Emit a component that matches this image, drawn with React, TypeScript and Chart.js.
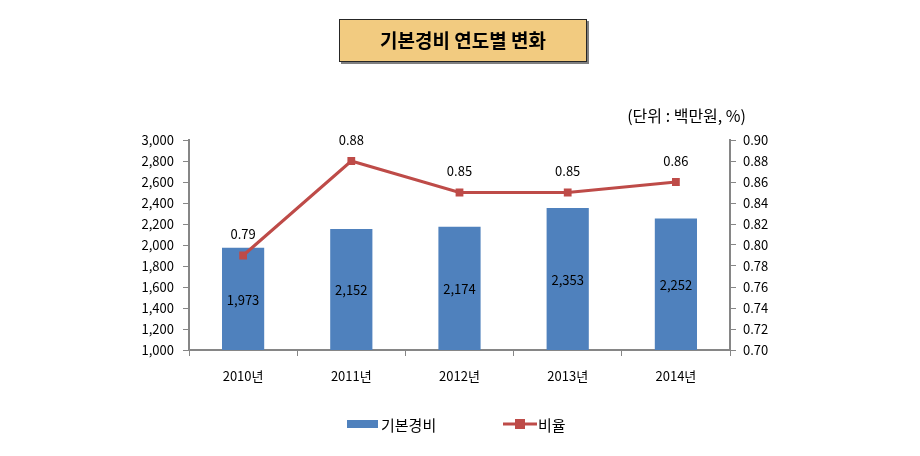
import React, { useEffect, useRef } from "react";
import { Chart, registerables } from "chart.js";

Chart.register(...registerables);

const categories = ["2010년", "2011년", "2012년", "2013년", "2014년"];
const expenseValues = [1973, 2152, 2174, 2353, 2252];
const ratioValues = [0.79, 0.88, 0.85, 0.85, 0.86];
const leftTicks = [1000, 1200, 1400, 1600, 1800, 2000, 2200, 2400, 2600, 2800, 3000];
const rightTicks = [0.7, 0.72, 0.74, 0.76, 0.78, 0.8, 0.82, 0.84, 0.86, 0.88, 0.9];
const titleText = "기본경비 연도별 변화";
const unitText = "(단위 : 백만원, %)";
const seriesNames = ["기본경비", "비율"];

const KFONT = "'Malgun Gothic', 'Noto Sans CJK KR', sans-serif";
const BLUE = "#4F81BD";
const RED = "#BE4B48";

const overlayPlugin = {
  id: "overlay",
  afterDraw(chart: any) {
    const ctx = chart.ctx;
    ctx.save();
    // title box
    const bx = 339, by = 19, bw = 248, bh = 43;
    ctx.fillStyle = "#7f7f7f";
    ctx.fillRect(bx + 2, by + 2, bw, bh);
    ctx.fillStyle = "#F2CB80";
    ctx.fillRect(bx, by, bw, bh);
    ctx.strokeStyle = "#262626";
    ctx.lineWidth = 1;
    ctx.strokeRect(bx + 0.5, by + 0.5, bw - 1, bh - 1);
    ctx.fillStyle = "#000";
    ctx.font = "bold 19px " + KFONT;
    ctx.textAlign = "center";
    ctx.textBaseline = "middle";
    ctx.fillText(titleText, bx + bw / 2, by + bh / 2);

    // unit text
    ctx.font = "16px " + KFONT;
    ctx.textAlign = "right";
    ctx.fillText(unitText, 746, 116);

    // data labels
    ctx.font = "13px " + KFONT;
    ctx.textAlign = "center";
    const bottom = chart.chartArea.bottom;
    const barMeta = chart.getDatasetMeta(0);
    barMeta.data.forEach((el: any, i: number) => {
      const y = (el.y + bottom) / 2;
      ctx.fillText(expenseValues[i].toLocaleString("en-US"), el.x, y + 1);
    });
    const lineMeta = chart.getDatasetMeta(1);
    lineMeta.data.forEach((el: any, i: number) => {
      ctx.fillText(ratioValues[i].toFixed(2), el.x, el.y - 21);
    });

    // legend
    const ly = 424;
    ctx.fillStyle = BLUE;
    ctx.fillRect(347, ly - 4, 31, 8);
    ctx.fillStyle = "#000";
    ctx.font = "15px " + KFONT;
    ctx.textAlign = "left";
    ctx.fillText(seriesNames[0], 381, ly + 1);
    ctx.strokeStyle = RED;
    ctx.lineWidth = 3;
    ctx.beginPath();
    ctx.moveTo(503, ly);
    ctx.lineTo(537, ly);
    ctx.stroke();
    ctx.fillStyle = RED;
    ctx.fillRect(515, ly - 5, 10, 10);
    ctx.fillStyle = "#000";
    ctx.fillText(seriesNames[1], 538, ly + 1);
    ctx.restore();
  },
};

export default function App() {
  const ref = useRef<HTMLCanvasElement>(null);
  useEffect(() => {
    if (!ref.current) return;
    const chart = new Chart(ref.current, {
      type: "bar",
      data: {
        labels: categories,
        datasets: [
          {
            type: "bar",
            label: seriesNames[0],
            data: expenseValues,
            backgroundColor: BLUE,
            borderWidth: 0,
            yAxisID: "y",
            categoryPercentage: 1,
            barPercentage: 0.39,
            order: 2,
          },
          {
            type: "line",
            label: seriesNames[1],
            data: ratioValues,
            borderColor: RED,
            backgroundColor: RED,
            borderWidth: 3,
            pointStyle: "rect",
            pointRadius: 5.5,
            pointBorderWidth: 0,
            yAxisID: "y1",
            order: 1,
          } as any,
        ],
      },
      options: {
        responsive: false,
        animation: false,
        layout: { padding: { left: 120, right: 120, top: 140, bottom: 0 } },
        plugins: { legend: { display: false }, tooltip: { enabled: false } },
        scales: {
          x: {
            grid: {
              drawOnChartArea: false,
              color: "#868686",
              tickLength: 6,
              offset: true,
            },
            border: { color: "#868686", width: 2 },
            ticks: { color: "#000", font: { size: 13, family: KFONT }, padding: 12 },
            afterFit(scale: any) {
              scale.height = 106;
            },
          },
          y: {
            position: "left",
            min: 1000,
            max: 3000,
            afterBuildTicks(scale: any) {
              scale.ticks = leftTicks.map((v) => ({ value: v }));
            },
            grid: { drawOnChartArea: false, color: "#868686", tickLength: 6 },
            border: { color: "#868686", width: 2 },
            ticks: {
              color: "#000",
              font: { size: 13, family: KFONT },
              padding: 9,
              callback: (v: any) => Number(v).toLocaleString("en-US"),
            },
            afterFit(scale: any) {
              scale.width = 69;
            },
          },
          y1: {
            position: "right",
            min: 0.7,
            max: 0.9,
            afterBuildTicks(scale: any) {
              scale.ticks = rightTicks.map((v) => ({ value: v }));
            },
            grid: { drawOnChartArea: false, color: "#868686", tickLength: 6 },
            border: { color: "#868686", width: 2 },
            ticks: {
              color: "#000",
              font: { size: 13, family: KFONT },
              padding: 7,
              callback: (v: any) => Number(v).toFixed(2),
            },
            afterFit(scale: any) {
              scale.width = 70;
            },
          },
        },
      },
      plugins: [overlayPlugin],
    } as any);
    return () => chart.destroy();
  }, []);
  return (
    <div style={{ position: "fixed", left: 0, top: 0, width: 920, height: 456, background: "#fff" }}>
      <canvas ref={ref} width={920} height={456} />
    </div>
  );
}
